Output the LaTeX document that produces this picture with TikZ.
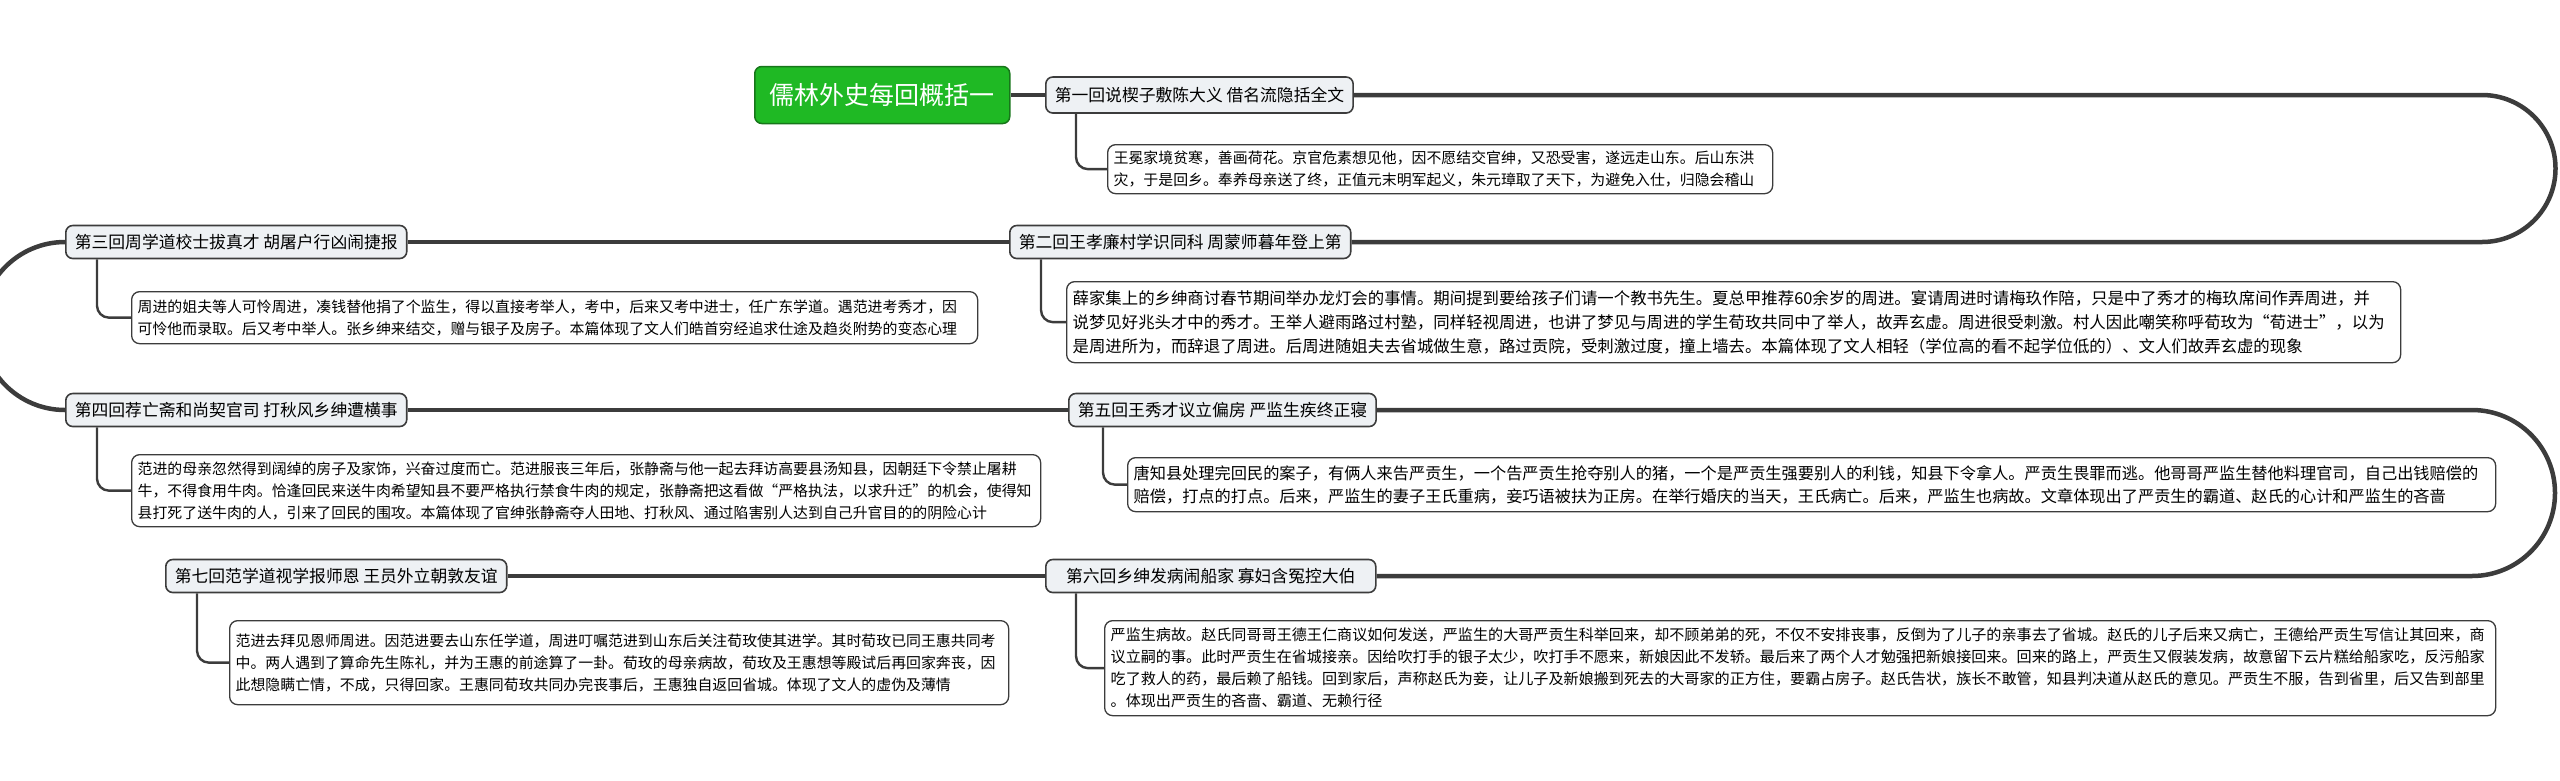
\documentclass[tikz,border=0pt]{standalone}
\usepackage{fontspec}
\setmainfont{Noto Sans CJK SC}
\definecolor{linegray}{HTML}{3C3C3C}
\definecolor{chapterfill}{HTML}{EEF1F4}
\definecolor{titlegreen}{HTML}{1FB924}
\definecolor{titleborder}{HTML}{17761A}

\begin{document}
\begin{tikzpicture}[x=1pt, y=1pt,
  spine/.style={line width=4.5pt, draw=linegray},
  twig/.style={line width=2.4pt, draw=linegray, rounded corners=12pt},
  titlebox/.style={draw=titleborder, line width=1.5pt, fill=titlegreen, text=white, rounded corners=7pt,
    font=\fontsize{25}{30}\selectfont, minimum height=57pt, inner xsep=15pt, anchor=west},
  chapter/.style={draw=linegray, line width=1.6pt, fill=chapterfill, rounded corners=7pt,
    font=\fontsize{16.8}{20}\selectfont, minimum height=33pt, inner xsep=9pt, anchor=west},
  summary/.style={draw=linegray, line width=1.3pt, fill=white, rounded corners=8pt, align=left,
    anchor=north west, inner xsep=6pt, inner ysep=6pt, font=\fontsize{14.9}{22}\selectfont}]
  \useasboundingbox (0,0) rectangle (2560,-780);

  \node[titlebox] (Title) at (754,-95) {儒林外史每回概括一};
  \node[chapter, minimum height=36pt] (One) at (1045,-95) {第一回说楔子敷陈大义 借名流隐括全文};
  \node[chapter] (Two) at (1009,-242) {第二回王孝廉村学识同科 周蒙师暮年登上第};
  \node[chapter] (Three) at (65,-242) {第三回周学道校士拔真才 胡屠户行凶闹捷报};
  \node[chapter] (Four) at (65,-410) {第四回荐亡斋和尚契官司 打秋风乡绅遭横事};
  \node[chapter] (Five) at (1068,-410) {第五回王秀才议立偏房 严监生疾终正寝};
  \node[chapter, minimum width=330pt] (Six) at (1045,-576) {第六回乡绅发病闹船家 寡妇含冤控大伯};
  \node[chapter] (Seven) at (165,-576) {第七回范学道视学报师恩 王员外立朝敦友谊};

  \node[summary, text width=653pt, minimum height=49pt] (OneText) at (1107,-144)
    {王冕家境贫寒，善画荷花。京官危素想见他，因不愿结交官绅，又恐受害，遂远走山东。后山东洪\\
     灾，于是回乡。奉养母亲送了终，正值元末明军起义，朱元璋取了天下，为避免入仕，归隐会稽山};
  \node[summary, text width=1322pt, minimum height=81pt, font=\fontsize{16.4}{24}\selectfont] (TwoText) at (1066,-281)
    {薛家集上的乡绅商讨春节期间举办龙灯会的事情。期间提到要给孩子们请一个教书先生。夏总甲推荐60余岁的周进。宴请周进时请梅玖作陪，只是中了秀才的梅玖席间作弄周进，并\\
     说梦见好兆头才中的秀才。王举人避雨路过村塾，同样轻视周进，也讲了梦见与周进的学生荀玫共同中了举人，故弄玄虚。周进很受刺激。村人因此嘲笑称呼荀玫为“荀进士”，以为\\
     是周进所为，而辞退了周进。后周进随姐夫去省城做生意，路过贡院，受刺激过度，撞上墙去。本篇体现了文人相轻（学位高的看不起学位低的）、文人们故弄玄虚的现象};
  \node[summary, text width=834pt, minimum height=52pt] (ThreeText) at (131,-291)
    {周进的姐夫等人可怜周进，凑钱替他捐了个监生，得以直接考举人，考中，后来又考中进士，任广东学道。遇范进考秀才，因\\
     可怜他而录取。后又考中举人。张乡绅来结交，赠与银子及房子。本篇体现了文人们皓首穷经追求仕途及趋炎附势的变态心理};
  \node[summary, text width=897pt, minimum height=72pt] (FourText) at (131,-454)
    {范进的母亲忽然得到阔绰的房子及家饰，兴奋过度而亡。范进服丧三年后，张静斋与他一起去拜访高要县汤知县，因朝廷下令禁止屠耕\\
     牛，不得食用牛肉。恰逢回民来送牛肉希望知县不要严格执行禁食牛肉的规定，张静斋把这看做“严格执法，以求升迁”的机会，使得知\\
     县打死了送牛肉的人，引来了回民的围攻。本篇体现了官绅张静斋夺人田地、打秋风、通过陷害别人达到自己升官目的的阴险心计};
  \node[summary, text width=1356pt, minimum height=54pt, font=\fontsize{16.2}{23}\selectfont] (FiveText) at (1127,-457)
    {唐知县处理完回民的案子，有俩人来告严贡生，一个告严贡生抢夺别人的猪，一个是严贡生强要别人的利钱，知县下令拿人。严贡生畏罪而逃。他哥哥严监生替他料理官司，自己出钱赔偿的\\
     赔偿，打点的打点。后来，严监生的妻子王氏重病，妾巧语被扶为正房。在举行婚庆的当天，王氏病亡。后来，严监生也病故。文章体现出了严贡生的霸道、赵氏的心计和严监生的吝啬};
  \node[summary, text width=1379pt, minimum height=95pt, font=\fontsize{15.1}{22}\selectfont] (SixText) at (1104,-620)
    {严监生病故。赵氏同哥哥王德王仁商议如何发送，严监生的大哥严贡生科举回来，却不顾弟弟的死，不仅不安排丧事，反倒为了儿子的亲事去了省城。赵氏的儿子后来又病亡，王德给严贡生写信让其回来，商\\
     议立嗣的事。此时严贡生在省城接亲。因给吹打手的银子太少，吹打手不愿来，新娘因此不发轿。最后来了两个人才勉强把新娘接回来。回来的路上，严贡生又假装发病，故意留下云片糕给船家吃，反污船家\\
     吃了救人的药，最后赖了船钱。回到家后，声称赵氏为妾，让儿子及新娘搬到死去的大哥家的正方住，要霸占房子。赵氏告状，族长不敢管，知县判决道从赵氏的意见。严贡生不服，告到省里，后又告到部里\\
     。体现出严贡生的吝啬、霸道、无赖行径};
  \node[summary, text width=767pt, minimum height=84pt] (SevenText) at (229,-620)
    {范进去拜见恩师周进。因范进要去山东任学道，周进叮嘱范进到山东后关注荀玫使其进学。其时荀玫已同王惠共同考\\
     中。两人遇到了算命先生陈礼，并为王惠的前途算了一卦。荀玫的母亲病故，荀玫及王惠想等殿试后再回家奔丧，因\\
     此想隐瞒亡情，不成，只得回家。王惠同荀玫共同办完丧事后，王惠独自返回省城。体现了文人的虚伪及薄情};

  \draw[spine] (Title) -- (One);
  \draw[spine] (One) -- (2482,-95) arc[start angle=90, end angle=-90, radius=73.5] -- (Two);
  \draw[spine] (Two) -- (Three);
  \draw[spine] (Three.west) arc[start angle=90, end angle=270, radius=84] -- (Four.west);
  \draw[spine] (Four) -- (Five);
  \draw[spine] (Five) -- (2472,-410) arc[start angle=90, end angle=-90, radius=83] -- (Six);
  \draw[spine] (Six) -- (Seven);

  \draw[twig] ([xshift=31pt]One.south west) |- (OneText.west);
  \draw[twig] ([xshift=32pt]Two.south west) |- (TwoText.west);
  \draw[twig] ([xshift=32pt]Three.south west) |- (ThreeText.west);
  \draw[twig] ([xshift=32pt]Four.south west) |- (FourText.west);
  \draw[twig] ([xshift=35pt]Five.south west) |- (FiveText.west);
  \draw[twig] ([xshift=31pt]Six.south west) |- (SixText.west);
  \draw[twig] ([xshift=32pt]Seven.south west) |- (SevenText.west);
\end{tikzpicture}
\end{document}
